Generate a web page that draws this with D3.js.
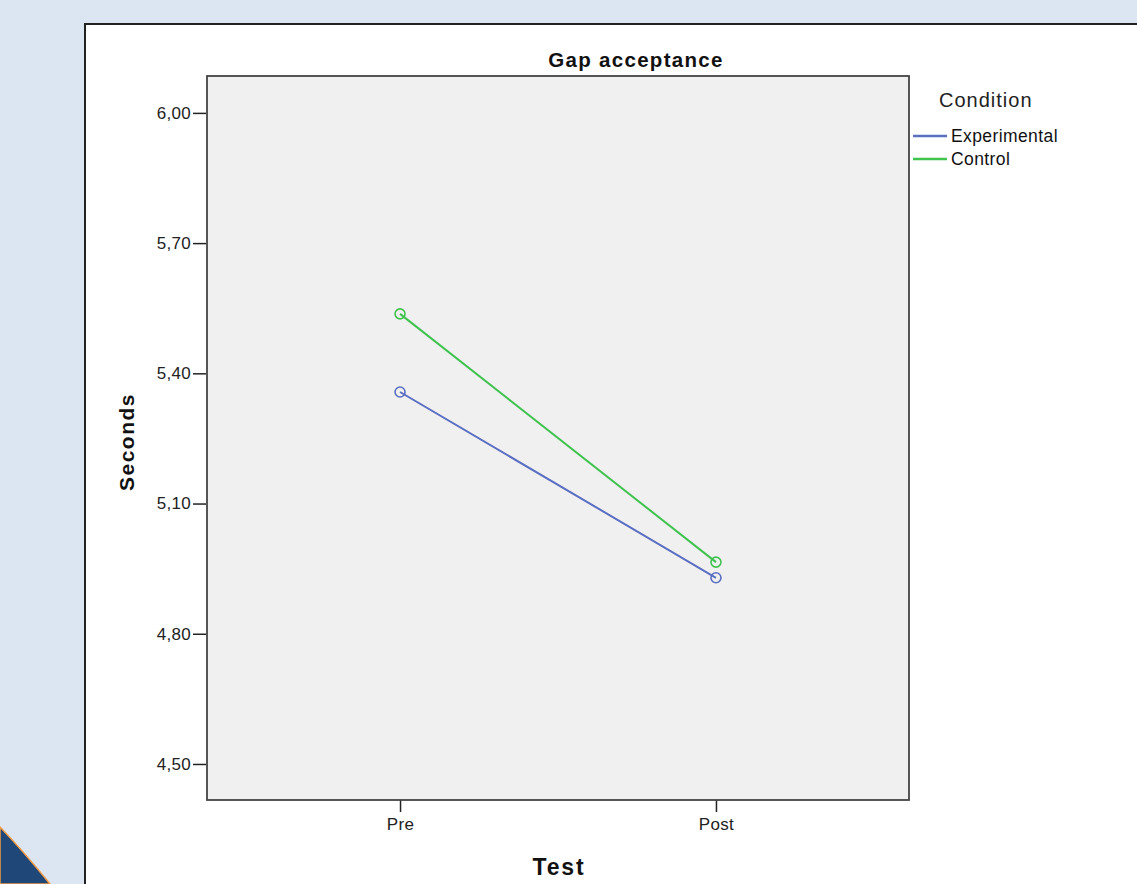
<!DOCTYPE html>
<html>
<head>
<meta charset="utf-8">
<script src="https://cdn.jsdelivr.net/npm/d3@7"></script>
<style>
  html, body { margin: 0; padding: 0; background: #dce6f2; }
  svg { display: block; font-family: "Liberation Sans", Arial, sans-serif; }
</style>
</head>
<body>
<svg id="chart"></svg>
<script>
// data
const tests = ["Pre", "Post"];
const conditions = ["Experimental", "Control"];
const experimental = [5.357, 4.929];
const control = [5.537, 4.965];
const yTicks = [4.5, 4.8, 5.1, 5.4, 5.7, 6.0];
const colors = ["#5a6ec2", "#40c24f"];

const W = 1137, H = 884;
const svg = d3.select("#chart")
    .attr("width", W)
    .attr("height", H);

// slide decoration
svg.append("path")
    .attr("d", "M0,827 Q24,852 50,884 L0,884 Z")
    .attr("fill", "#1f4777")
    .attr("stroke", "#f39a44")
    .attr("stroke-width", 1.5);

// white chart frame
svg.append("rect")
    .attr("x", 85).attr("y", 24)
    .attr("width", 1100).attr("height", 900)
    .attr("fill", "#fff")
    .attr("stroke", "#222")
    .attr("stroke-width", 2);

// plot area
const pLeft = 207, pRight = 909, pTop = 76, pBottom = 800;

const x = d3.scalePoint()
    .domain(tests)
    .range([pLeft, pRight])
    .padding(0.611);
const y = d3.scaleLinear()
    .domain([4.417, 6.085])
    .range([pBottom, pTop]);

svg.append("rect")
    .attr("x", pLeft).attr("y", pTop)
    .attr("width", pRight - pLeft).attr("height", pBottom - pTop)
    .attr("fill", "#f0f0f0");

// axes
const yAxis = d3.axisLeft(y)
    .tickValues(yTicks)
    .tickSize(13)
    .tickPadding(3)
    .tickFormat(d => d3.format(".2f")(d).replace(".", ","));
const xAxis = d3.axisBottom(x)
    .tickSize(12)
    .tickPadding(6);

const gy = svg.append("g")
    .attr("transform", `translate(${pLeft},0)`)
    .call(yAxis);
const gx = svg.append("g")
    .attr("transform", `translate(0,${pBottom})`)
    .call(xAxis);

[gx, gy].forEach(g => {
    g.select(".domain").remove();
    g.selectAll(".tick line").attr("stroke", "#222").attr("stroke-width", 1.5);
    g.selectAll(".tick text")
        .attr("fill", "#222")
        .style("font-size", "17px")
        .style("letter-spacing", "0.3px")
        .style("font-family", "'Liberation Sans', Arial, sans-serif");
});
gy.selectAll(".tick line").attr("x2", -14).attr("x1", -1);

// plot border
svg.append("rect")
    .attr("x", pLeft).attr("y", pTop)
    .attr("width", pRight - pLeft).attr("height", pBottom - pTop)
    .attr("fill", "none")
    .attr("stroke", "#444")
    .attr("stroke-width", 1.8);

// lines and markers
const series = [experimental, control];
const line = d3.line()
    .x((d, i) => x(tests[i]))
    .y(d => y(d));

series.forEach((s, k) => {
    svg.append("path")
        .datum(s)
        .attr("d", line)
        .attr("fill", "none")
        .attr("stroke", colors[k])
        .attr("stroke-width", 2);
    svg.selectAll(null)
        .data(s)
        .join("circle")
        .attr("cx", (d, i) => x(tests[i]))
        .attr("cy", d => y(d))
        .attr("r", 5)
        .attr("fill", "none")
        .attr("stroke", colors[k])
        .attr("stroke-width", 1.6);
});

// titles
svg.append("text")
    .attr("x", 636).attr("y", 67)
    .attr("text-anchor", "middle")
    .style("font-size", "20.5px")
    .style("font-weight", "bold")
    .style("letter-spacing", "1.3px")
    .attr("fill", "#111")
    .text("Gap acceptance");

svg.append("text")
    .attr("transform", "translate(134,442) rotate(-90)")
    .attr("text-anchor", "middle")
    .style("font-size", "21px")
    .style("font-weight", "bold")
    .style("letter-spacing", "1.5px")
    .attr("fill", "#111")
    .text("Seconds");

svg.append("text")
    .attr("x", 559).attr("y", 875)
    .attr("text-anchor", "middle")
    .style("font-size", "23px")
    .style("font-weight", "bold")
    .style("letter-spacing", "1.8px")
    .attr("fill", "#111")
    .text("Test");

// legend
svg.append("text")
    .attr("x", 939).attr("y", 107)
    .style("font-size", "20px")
    .style("letter-spacing", "1px")
    .attr("fill", "#222")
    .text("Condition");

const legend = svg.append("g");
conditions.forEach((c, k) => {
    const ly = 136 + k * 23;
    legend.append("line")
        .attr("x1", 913).attr("x2", 947)
        .attr("y1", ly).attr("y2", ly)
        .attr("stroke", colors[k])
        .attr("stroke-width", 2.5);
    legend.append("text")
        .attr("x", 951).attr("y", ly + 6)
        .style("font-size", "17.5px")
        .style("letter-spacing", "0.4px")
        .attr("fill", "#111")
        .text(c);
});
</script>
</body>
</html>
